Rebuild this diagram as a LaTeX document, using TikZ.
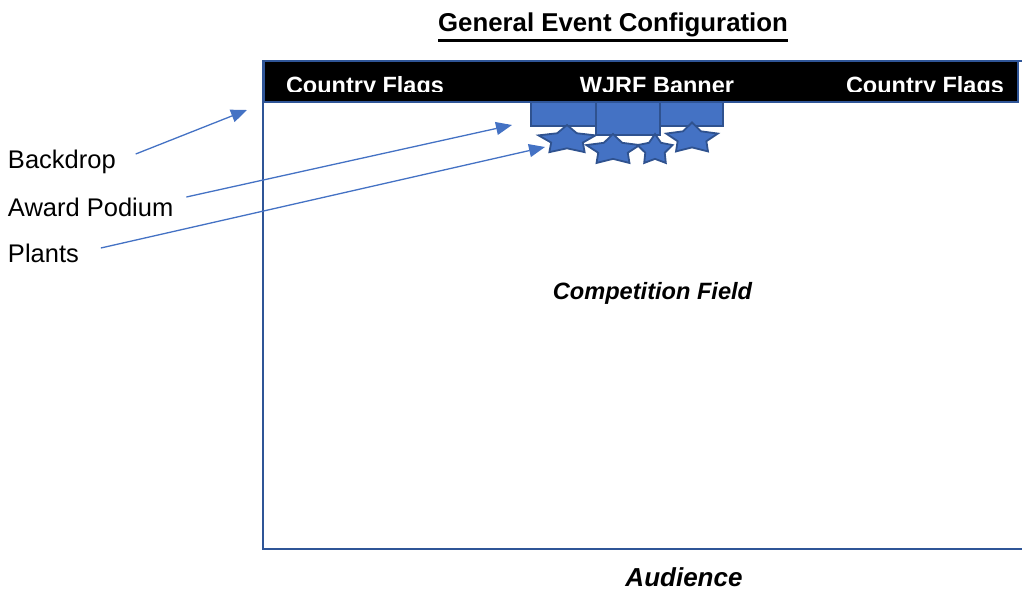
\documentclass[tikz,border=0pt]{standalone}
\usepackage{fontspec}
\setmainfont{Liberation Sans}
\usepackage{xcolor}
\usetikzlibrary{arrows.meta, shapes.geometric, positioning}

\definecolor{officeblue}{HTML}{4472C4}
\definecolor{frameblue}{HTML}{2F5597}
\definecolor{edgeblue}{HTML}{2F528F}

\begin{document}
\begin{tikzpicture}[
    x=1pt, y=-1pt, % one unit per pixel, counted from the top left corner
    every node/.style={inner sep=0pt, outer sep=0pt},
    callout/.style={font={\fontsize{25.5}{30}\selectfont}, anchor=base west},
    flag/.style={font={\fontsize{23.5}{28}\selectfont\bfseries}, text=white, anchor=base},
    pointer/.style={-{Triangle[length=16pt, width=13pt]}, officeblue, line width=1.3pt},
    block/.style={fill=officeblue, draw=edgeblue, line width=1.5pt, anchor=north west},
    plant/.style={star, star points=5, star point ratio=1.8, fill=officeblue, draw=edgeblue, line width=1.8pt, transform shape}
  ]

  \useasboundingbox (0,0) rectangle (1022,591);
  \clip (0,0) rectangle (1022,591);

  % field and stage
  \draw[frameblue, line width=2.5pt] (263,61) rectangle (1040,549);

  \node[block, minimum width=65pt, minimum height=24pt] (podium-left) at (531,102) {};
  \node[block, minimum width=64pt, minimum height=33pt] (podium-mid) at (podium-left.north east) {};
  \node[block, minimum width=63pt, minimum height=24pt] (podium-right) at (podium-mid.north east) {};

  \draw[fill=black, draw=frameblue, line width=1.5pt] (264,61) rectangle (1018,102);

  \begin{scope}
    \clip (264,61) rectangle (1018,92); % text box cuts the descenders
    \node[flag] (flags-left) at (365,93.5) {Country Flags};
    \node[flag] (banner) at (657,93.5) {WJRF Banner};
    \node[flag] (flags-right) at (925,93.5) {Country Flags};
  \end{scope}

  \node[plant, minimum size=30pt, xscale=2.0] (plant1) at (567,140) {};
  \node[plant, minimum size=32pt, xscale=1.75] (plant2) at (613,150) {};
  \node[plant, minimum size=32pt, xscale=1.15] (plant3) at (655,150) {};
  \node[plant, minimum size=32pt, xscale=1.7] (plant4) at (692,138.5) {};

  % texts
  \node[font={\fontsize{25.8}{30}\selectfont\bfseries}, anchor=base] (title) at (613,32) {General Event Configuration};
  \draw[line width=2.4pt] ([yshift=-3pt]title.south west) -- ([yshift=-3pt]title.south east);

  \node[font={\fontsize{23.6}{28}\selectfont\bfseries\itshape}, anchor=base] (field) at (652.5,299) {Competition Field};
  \node[font={\fontsize{26}{30}\selectfont\bfseries\itshape}, anchor=base] (audience) at (684,586) {Audience};

  \node[callout] (backdrop) at (8,168) {Backdrop};
  \node[callout] (podium) at (8,216) {Award Podium};
  \node[callout] (plants) at (8,262) {Plants};

  % pointers
  \coordinate (backdrop-tip) at (247,110);
  \draw[pointer] ([xshift=20pt, yshift=14pt]backdrop.base east) -- (backdrop-tip);
  \draw[pointer] ([xshift=13pt, yshift=19pt]podium.base east) -- ([xshift=-19pt, yshift=1pt]podium-left.south west);
  \draw[pointer] ([xshift=22pt, yshift=14pt]plants.base east) -- ([xshift=-22pt, yshift=-7pt]plant1.center);

\end{tikzpicture}
\end{document}
